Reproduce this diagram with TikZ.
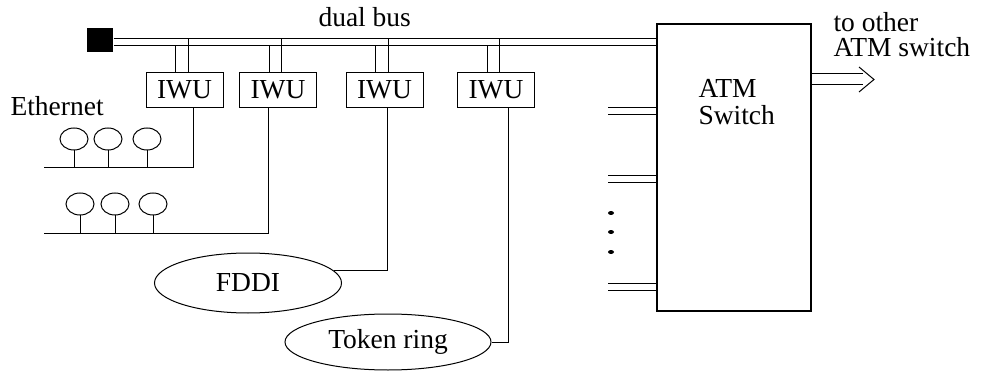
\documentclass[tikz,border=0pt]{standalone}
\usepackage{fontspec}
\setmainfont{Liberation Serif}
\usetikzlibrary{shapes.geometric}

\begin{document}
\begin{tikzpicture}[x=1pt,y=-1pt,line width=1pt,
  font=\fontsize{27.5}{27}\selectfont,
  iwu/.style={draw, minimum width=77pt, minimum height=35pt, inner sep=0pt},
  host/.style={draw, ellipse, minimum width=28pt, minimum height=22pt, inner sep=0pt},
  lan/.style={draw, ellipse, inner sep=0pt},
  label/.style={inner sep=0pt},
  dotmark/.style={fill, ellipse, inner sep=0pt, minimum width=6pt, minimum height=4pt}]
\useasboundingbox (0,0) rectangle (981,371);

% terminator of the dual bus and the ATM switch
\node[fill, minimum width=26pt, minimum height=24pt, inner sep=0pt] (term) at (100,40) {};
\node[draw, line width=2.5pt, minimum width=154pt, minimum height=287pt, inner sep=0pt] (sw) at (734,167.5) {};
\node[label, anchor=base west] (swtext1) at (698,98) {ATM};
\node[label, anchor=base west] (swtext2) at (698,125) {Switch};

% the two lines of the dual bus
\draw (term.east |- 0,39) -- (sw.west |- 0,39);
\draw (term.east |- 0,46) -- (sw.west |- 0,46);
\node[label, anchor=base west] (busname) at (318,27) {dual bus};

% interworking units
\node[iwu] (iwu1) at (184.5,90) {IWU};
\node[iwu] (iwu2) at (278,90) {IWU};
\node[iwu] (iwu3) at (384.5,90) {IWU};
\node[iwu] (iwu4) at (496,90) {IWU};
\foreach \i in {1,...,4}{
  \draw ([xshift=-9pt]iwu\i.north) -- ([xshift=-9pt]iwu\i.north |- 0,46);
  \draw ([xshift=3.5pt]iwu\i.north) -- ([xshift=3.5pt]iwu\i.north |- 0,39);
}

% Ethernet segments
\node[label, anchor=base west] (ethname) at (10,116) {Ethernet};
\coordinate (eth1) at (44,168);
\coordinate (eth2) at (44,233);
\node[host] (h11) at (74,139) {};
\node[host] (h12) at (108,139) {};
\node[host] (h13) at (147,139) {};
\node[host] (h21) at (80,204) {};
\node[host] (h22) at (115,204) {};
\node[host] (h23) at (153,204) {};
\foreach \h in {h11,h12,h13}{ \draw (\h.south) -- (\h.south |- eth1); }
\foreach \h in {h21,h22,h23}{ \draw (\h.south) -- (\h.south |- eth2); }
\draw ([xshift=8.5pt]iwu1.south) |- (eth1);
\draw ([xshift=-9.5pt]iwu2.south) |- (eth2);

% FDDI and token ring
\node[lan, minimum width=187pt, minimum height=60pt] (fddi) at (248,283) {FDDI};
\node[lan, minimum width=206pt, minimum height=56pt] (ring) at (388,342) {Token ring};
\draw ([xshift=2.5pt]iwu3.south) |- (fddi.8);
\draw ([xshift=12.5pt]iwu4.south) |- (ring.east);

% further ports of the switch
\foreach \y in {108,176,283}{
  \coordinate (p) at (608,\y);
  \draw (p) -- (sw.west |- p);
  \draw ([yshift=-7pt]p) -- (sw.west |- 0,\y+7);
}
\node[dotmark] (d1) at (611,213) {};
\node[dotmark] (d2) at (611,232) {};
\node[dotmark] (d3) at (611,252) {};

% link to another switch
\coordinate (tipa) at (863,74);
\coordinate (tipb) at (863,85);
\draw (sw.east |- tipa) -- (tipa);
\draw (sw.east |- tipb) -- (tipb);
\draw (859,67) -- (874,79.5) -- (859,92);
\node[label, anchor=base west] (othertext1) at (833,32) {to other};
\node[label, anchor=base west] (othertext2) at (833,57) {ATM switch};
\end{tikzpicture}
\end{document}
